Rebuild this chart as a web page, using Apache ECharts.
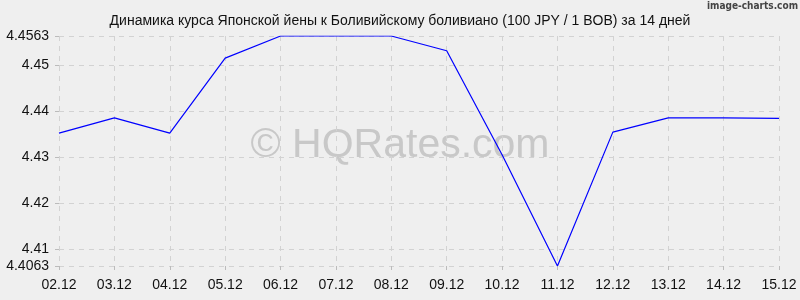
<!DOCTYPE html>
<html>
<head>
<meta charset="utf-8">
<script src="https://cdn.jsdelivr.net/npm/echarts@6/dist/echarts.min.js"></script>
<style>
html,body{margin:0;padding:0;background:#efefef;}
#chart{width:800px;height:300px;}
</style>
</head>
<body>
<div id="chart"></div>
<script>
const categories = ['02.12','03.12','04.12','05.12','06.12','07.12','08.12','09.12','10.12','11.12','12.12','13.12','14.12','15.12'];
const rates = [4.4352, 4.4385, 4.4352, 4.4515, 4.4563, 4.4563, 4.4563, 4.4531, 4.4305, 4.4063, 4.4354, 4.4385, 4.4385, 4.4384];
const yTicks = [4.4063, 4.41, 4.42, 4.43, 4.44, 4.45, 4.4563];
const titleText = 'Динамика курса Японской йены к Боливийскому боливиано (100 JPY / 1 BOB) за 14 дней';
const watermark = '© HQRates.com';
const brand = 'image-charts.com';

const chart = echarts.init(document.getElementById('chart'), null, {renderer: 'canvas'});
const gridLine = {show: true, lineStyle: {color: '#d2d2d2', type: [5, 5], width: 1}};
chart.setOption({
  backgroundColor: '#efefef',
  animation: false,
  title: {
    text: titleText,
    left: 'center',
    top: 9,
    textStyle: {fontFamily: 'Liberation Sans', fontSize: 14, fontWeight: 'normal', color: '#111'}
  },
  graphic: [
    {type: 'text', left: 'center', top: 125, z: -1, silent: true,
     style: {text: watermark, fontFamily: 'Liberation Sans', fontSize: 41, fill: '#c8c8c8'}},
    {type: 'text', right: 2, top: 1,
     style: {text: brand, fontFamily: 'DejaVu Sans Condensed', fontSize: 10, fontWeight: 'bold', fill: '#444'}}
  ],
  grid: {left: 59, right: 21, top: 36, bottom: 34, containLabel: false},
  xAxis: {
    type: 'category',
    data: categories,
    boundaryGap: false,
    axisLine: {show: false},
    axisTick: {show: true, length: 4, lineStyle: {color: '#bbb'}},
    axisLabel: {fontFamily: 'Liberation Sans', fontSize: 14, color: '#111', margin: 12, interval: 0},
    splitLine: gridLine
  },
  yAxis: {
    type: 'value',
    min: 4.4063,
    max: 4.4563,
    axisLine: {show: false},
    axisTick: {show: true, length: 4, customValues: yTicks, lineStyle: {color: '#bbb'}},
    axisLabel: {fontFamily: 'Liberation Sans', fontSize: 14, color: '#111', margin: 10,
                customValues: yTicks, formatter: v => String(+v.toFixed(4))},
    splitLine: gridLine
  },
  series: [{
    type: 'line',
    data: rates,
    showSymbol: false,
    symbol: 'none',
    lineStyle: {color: '#0000ff', width: 1.2},
    z: 5
  }]
});
</script>
</body>
</html>
